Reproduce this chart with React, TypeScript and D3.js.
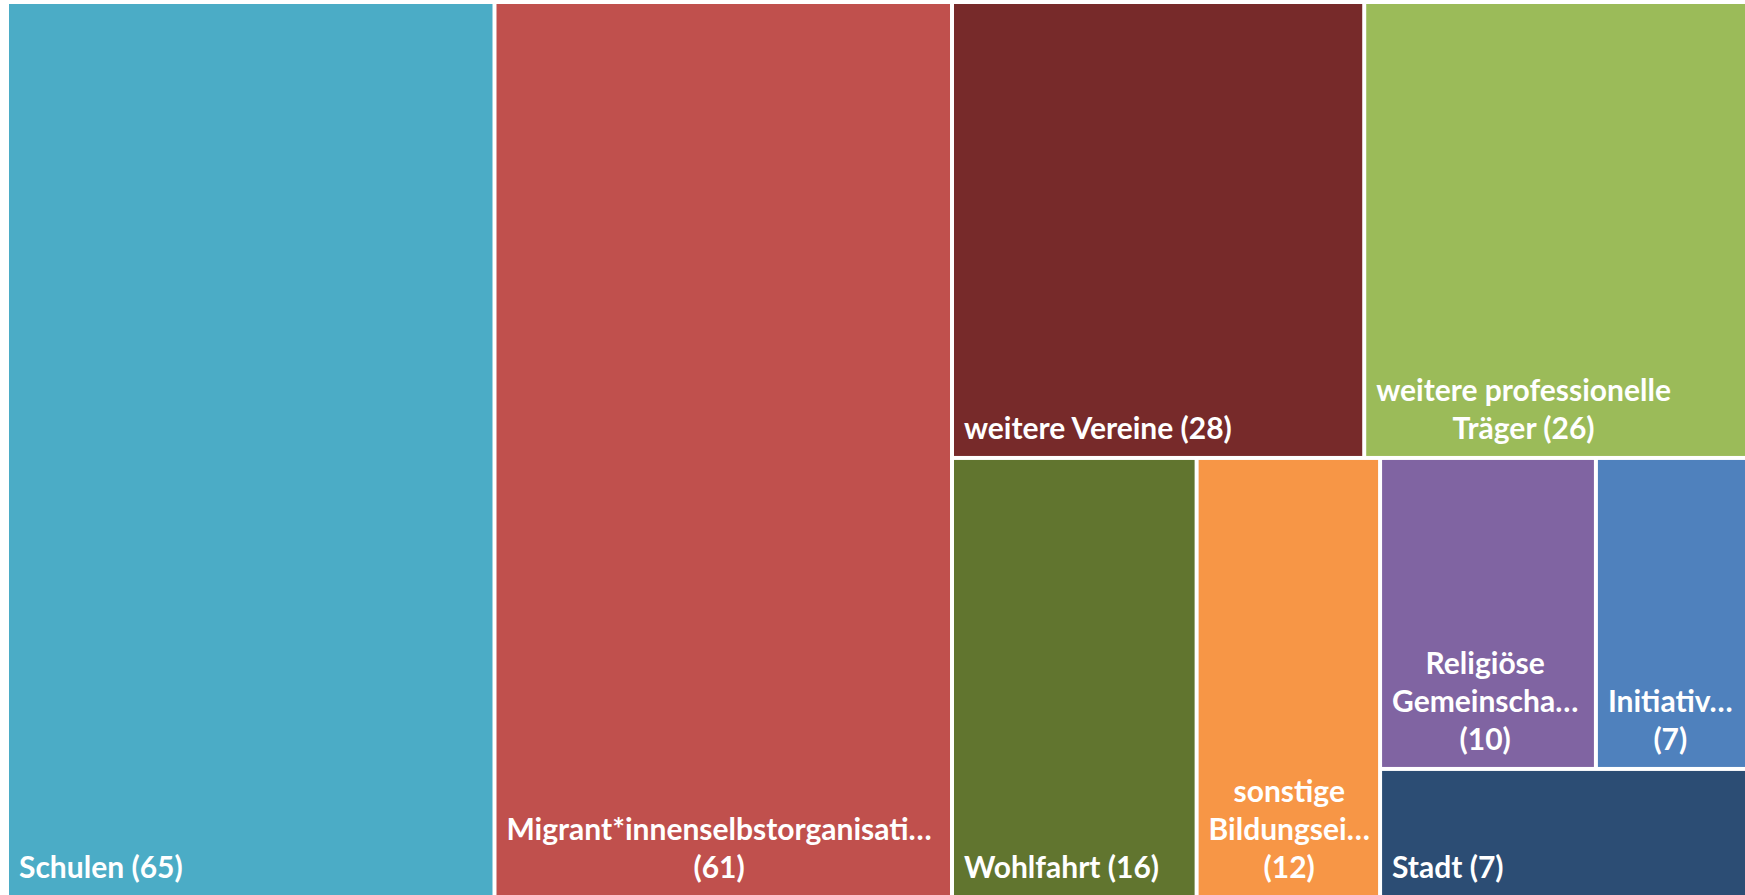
import React, { useMemo } from 'react';
import * as d3 from 'd3';

// ---- data ----
const categories = [
  'Schulen',
  'Migrant*innenselbstorganisationen',
  'weitere Vereine',
  'weitere professionelle Träger',
  'Wohlfahrt',
  'sonstige Bildungseinrichtungen',
  'Religiöse Gemeinschaften',
  'Initiativen',
  'Stadt',
];
const values = [65, 61, 28, 26, 16, 12, 10, 7, 7];
const colors = ['#4BACC6', '#C0504D', '#772A2A', '#9BBB59', '#61752F', '#F79646', '#8064A2', '#4F81BD', '#2C4D74'];
// displayed (wrapped / truncated) name lines
const nameLines = [
  ['Schulen'],
  ['Migrant*innenselbstorganisati…'],
  ['weitere Vereine'],
  ['weitere professionelle', 'Träger'],
  ['Wohlfahrt'],
  ['sonstige', 'Bildungsei…'],
  ['Religiöse', 'Gemeinscha…'],
  ['Initiativ…'],
  ['Stadt'],
];
const valueOnOwnLine = [false, true, false, false, false, true, true, true, false];
// how many consecutive tiles form each strip of the layout
const rowGroups = [1, 1, 2, 1, 1, 2, 1];

const W = 1745;
const H = 895;
const FONT = "700 30px Lato";

function groupedTile(parent: any, x0: number, y0: number, x1: number, y1: number) {
  const nodes = parent.children;
  let i = 0;
  let remaining = parent.value;
  for (const g of rowGroups) {
    const row = nodes.slice(i, i + g);
    const sum = d3.sum(row, (d: any) => d.value);
    const dx = x1 - x0;
    const dy = y1 - y0;
    const strip = { children: row, value: sum } as any;
    if (dx >= dy) {
      const w = remaining ? (dx * sum) / remaining : 0;
      d3.treemapSlice(strip, x0, y0, x0 + w, y1);
      x0 += w;
    } else {
      const h = remaining ? (dy * sum) / remaining : 0;
      d3.treemapDice(strip, x0, y0, x1, y0 + h);
      y0 += h;
    }
    remaining -= sum;
    i += g;
  }
}

export default function App() {
  const leaves = useMemo(() => {
    const data = {
      name: 'root',
      children: categories.map((c, i) => ({ name: c, value: values[i], idx: i })),
    };
    const root = d3.hierarchy<any>(data).sum((d: any) => d.value || 0);
    d3.treemap<any>().tile(groupedTile as any).size([1736, 891]).paddingInner(4)(root);
    return root.leaves() as any[];
  }, []);

  const ctx = useMemo(() => {
    const c = document.createElement('canvas').getContext('2d')!;
    c.font = FONT;
    return c;
  }, []);

  const lineH = 38;
  const pad = 10;

  return (
    <svg
      width={W}
      height={H}
      style={{ position: 'absolute', left: 0, top: 0, background: '#fff' }}
    >
      <g transform="translate(9,4)">
        {leaves.map((d: any) => {
          const i = d.data.idx;
          const names = nameLines[i];
          const lines = valueOnOwnLine[i]
            ? [...names, `(${values[i]})`]
            : [...names.slice(0, -1), `${names[names.length - 1]} (${values[i]})`];
          const blockW = Math.max(...lines.map((l) => ctx.measureText(l).width));
          const multi = lines.length > 1;
          const tx = multi ? d.x0 + pad + blockW / 2 : d.x0 + pad;
          const lastBase = d.y1 - 17;
          return (
            <g key={i}>
              <rect x={d.x0} y={d.y0} width={d.x1 - d.x0} height={d.y1 - d.y0} fill={colors[i]} />
              <text
                fill="#fff"
                style={{ font: FONT }}
                textAnchor={multi ? 'middle' : 'start'}
              >
                {lines.map((l, k) => (
                  <tspan key={k} x={tx} y={lastBase - (lines.length - 1 - k) * lineH}>
                    {l}
                  </tspan>
                ))}
              </text>
            </g>
          );
        })}
      </g>
    </svg>
  );
}
